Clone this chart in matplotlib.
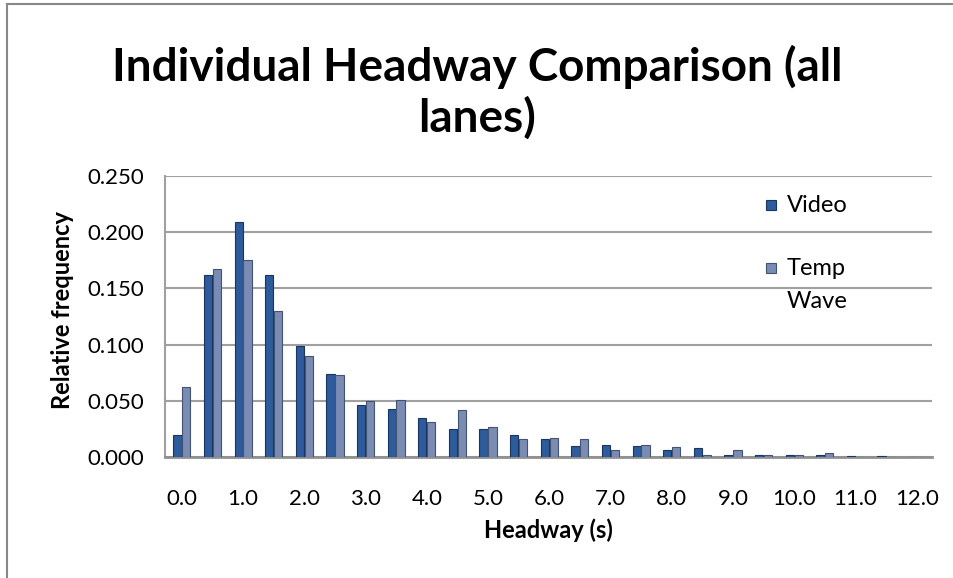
import matplotlib
matplotlib.use("Agg")
import matplotlib.pyplot as plt
import numpy as np
from matplotlib.lines import Line2D
from matplotlib.patches import Rectangle

categories = ["0.0", "0.5", "1.0", "1.5", "2.0", "2.5", "3.0", "3.5", "4.0", "4.5",
              "5.0", "5.5", "6.0", "6.5", "7.0", "7.5", "8.0", "8.5", "9.0", "9.5",
              "10.0", "10.5", "11.0", "11.5", "12.0"]
video = [0.020, 0.162, 0.209, 0.162, 0.099, 0.074, 0.046, 0.043, 0.035, 0.025,
         0.025, 0.020, 0.016, 0.010, 0.011, 0.010, 0.0065, 0.008, 0.0015, 0.002,
         0.002, 0.002, 0.001, 0.001, 0.0]
temp_wave = [0.062, 0.167, 0.175, 0.130, 0.090, 0.073, 0.050, 0.051, 0.031, 0.042,
             0.027, 0.016, 0.017, 0.016, 0.0065, 0.011, 0.009, 0.002, 0.0065, 0.002,
             0.002, 0.0035, 0.0, 0.0, 0.0]
series_names = ["Video", "Temp\nWave"]
yticks = [0.0, 0.05, 0.10, 0.15, 0.20, 0.25]

plt.rcParams['font.family'] = ['Lato', 'DejaVu Sans']

W, H = 954, 578
fig = plt.figure(figsize=(W / 100, H / 100), dpi=100)
ax = fig.add_axes([165 / W, 1 - 457 / H, (932 - 165) / W, (457 - 176) / H])

x = np.arange(len(categories))
bw = 0.27
c_video = '#2D5B9B'
e_video = '#1A3560'
c_temp = '#7A8CB4'
e_temp = '#44546F'
colors = [(c_video, e_video), (c_temp, e_temp)]
ax.bar(x - bw / 2 - 0.01, video, width=bw, color=c_video, edgecolor=e_video, linewidth=0.8, zorder=3)
ax.bar(x + bw / 2 + 0.01, temp_wave, width=bw, color=c_temp, edgecolor=e_temp, linewidth=0.8, zorder=3)

ax.set_xlim(-0.55, len(categories) - 0.5)
ax.set_ylim(0, 0.25)
ax.set_yticks(yticks)
ax.set_yticklabels([f"{v:.3f}" for v in yticks])
ax.set_xticks(x[::2])
ax.set_xticklabels(categories[::2])
ax.tick_params(axis='both', length=0, labelsize=16, colors='#000000')
ax.tick_params(axis='y', pad=15)
ax.tick_params(axis='x', pad=23)
ax.grid(axis='y', color='#A0A0A0', linewidth=1.5, zorder=0)
for s in ['top', 'right']:
    ax.spines[s].set_visible(False)
ax.spines['left'].set_color('#A0A0A0')
ax.spines['left'].set_linewidth(1.5)
ax.spines['bottom'].set_color('#909090')
ax.spines['bottom'].set_linewidth(2)

ax.set_xlabel("Headway (s)", fontsize=17, fontweight='bold', labelpad=7)
ax.set_ylabel("Relative frequency", fontsize=17, fontweight='bold')
ax.yaxis.set_label_coords((62 - 165) / 767, (457 - 310) / 281)
ax.yaxis.label.set_va('center')

# legend (drawn in axes coordinates)
leg_x = 0.7836
leg_ys = [0.8968, 0.6726]
msz = 10 / 767
for (fc, ec), name, ly in zip(colors, series_names, leg_ys):
    ax.add_patch(Rectangle((leg_x, ly - 5 / 281), msz, 10 / 281, transform=ax.transAxes,
                           facecolor=fc, edgecolor=ec, linewidth=0.8, clip_on=False, zorder=5))
    ax.text(0.8110, ly + 10 / 281, name, transform=ax.transAxes, ha='left', va='top',
            fontsize=17, linespacing=1.7, zorder=5)

fig.text(0.5, 1 - 92 / H, "Individual Headway Comparison (all\nlanes)", ha='center', va='center',
         fontsize=33, fontweight='bold', linespacing=1.2)

fig.add_artist(Line2D([7 / W, 7 / W], [0, 1 - 4 / H], color='#888888', linewidth=1.5))
fig.add_artist(Line2D([7 / W, 1], [1 - 4 / H, 1 - 4 / H], color='#888888', linewidth=1.5))

fig.savefig("out.png", dpi=100)
